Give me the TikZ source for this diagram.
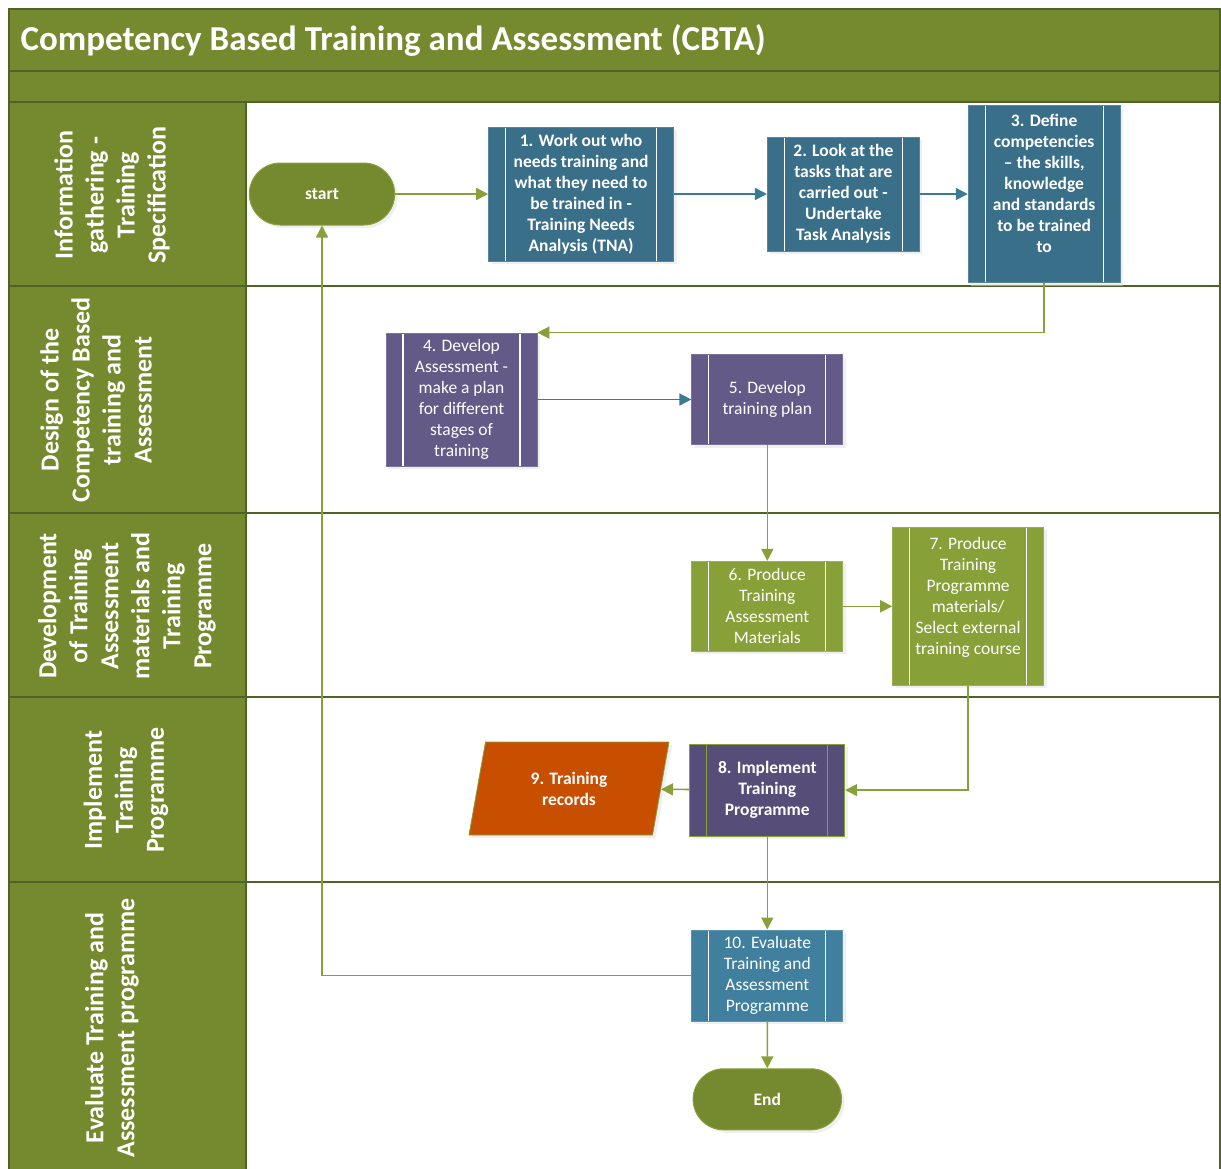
\documentclass[tikz,border=0pt]{standalone}
\usepackage{fontspec}
\setmainfont{Carlito}
\usetikzlibrary{positioning}
\usetikzlibrary{shapes.geometric}
\usetikzlibrary{shapes.misc}
\usetikzlibrary{arrows.meta}
\usetikzlibrary{shadows}

\definecolor{bandolive}{HTML}{75892E}
\definecolor{lineolive}{HTML}{4F6228}
\definecolor{flowolive}{HTML}{87A038}
\definecolor{taskteal}{HTML}{3A6F8A}
\definecolor{evalteal}{HTML}{407F9D}
\definecolor{taskpurple}{HTML}{635A87}
\definecolor{runpurple}{HTML}{564D78}
\definecolor{recordorange}{HTML}{C84E00}
\definecolor{flowteal}{HTML}{3A7A94}

\newcommand\boxfont{\fontsize{17.5}{21}\selectfont}
\newcommand\lanefont{\fontsize{26}{31}\selectfont\bfseries}

\begin{document}
\begin{tikzpicture}[x=1pt,y=-1pt,
  softshadow/.style={drop shadow={shadow xshift=3pt,shadow yshift=-3pt,fill=black!12,opacity=0.5}},
  bars/.style={path picture={
    \draw[#1,line width=1.2pt]
      ([xshift=17pt]path picture bounding box.north west) -- ([xshift=17pt]path picture bounding box.south west)
      ([xshift=-17pt]path picture bounding box.north east) -- ([xshift=-17pt]path picture bounding box.south east);}},
  task/.style={rectangle,fill=#1,draw=#1!85!white,line width=0.8pt,text=white,align=center,
    inner sep=0pt,font=\boxfont,bars=white,softshadow},
  terminal/.style={rounded rectangle,fill=bandolive,draw=flowolive,line width=1pt,text=white,
    font=\boxfont\bfseries,softshadow},
  lane/.style={rotate=90,align=center,text=white,font=\lanefont},
  flow/.style={draw=flowolive,line width=1.6pt,-{Triangle[length=12pt,width=12pt]}},
  tealflow/.style={flow,draw=flowteal},
]
\useasboundingbox (0,0) rectangle (1221,1168);

% pool and lanes
\fill[bandolive] (9,9) rectangle (1220,102);
\fill[bandolive] (9,102) rectangle (246,1172);
\draw[lineolive,line width=1.5pt] (9,1172) -- (9,9) -- (1220,9) -- (1220,1172);
\draw[lineolive,line width=1.5pt] (9,71) -- (1220,71) (9,102) -- (1220,102);
\draw[lineolive,line width=1.5pt] (246,102) -- (246,1172);
\foreach \y in {286,513,697,882}
  \draw[lineolive,line width=1.5pt] (9,\y) -- (1220,\y);

\node[anchor=west,text=white,font=\fontsize{35}{40}\selectfont\bfseries] (title) at (17,40)
  {Competency Based Training and Assessment (CBTA)};

\node[lane] (laneinfo) at (112,195) {Information\\gathering -\\Training\\Specification};
\node[lane] (lanedesign) at (96,400) {Design of the\\Competency Based\\training and\\Assessment};
\node[lane] (lanedev) at (127,606) {Development\\of Training\\Assessment\\materials and\\Training\\Programme};
\node[lane] (laneimpl) at (126,790) {Implement\\Training\\Programme};
\node[lane] (laneeval) at (112,1028) {Evaluate Training and\\Assessment programme};

% steps
\node[terminal,minimum width=152pt,minimum height=62pt] (start) at (322,194) {start};
\node[task=taskteal,font=\boxfont\bfseries,minimum width=185pt,minimum height=134pt,right=93pt of start] (tna)
  {1. Work out who\\needs training and\\what they need to\\be trained in -\\Training Needs\\Analysis (TNA)};
\node[task=taskteal,font=\boxfont\bfseries,minimum width=152pt,minimum height=114pt,right=93pt of tna] (tasks)
  {2. Look at the\\tasks that are\\carried out -\\Undertake\\Task Analysis};
\node[task=taskteal,font=\boxfont\bfseries,minimum width=152pt,minimum height=177pt,right=48pt of tasks] (competencies)
  {3. Define\\competencies\\– the skills,\\knowledge\\and standards\\to be trained\\to\\ \mbox{}};

\node[task=taskpurple,minimum width=151pt,minimum height=133pt] (assessment) at (461.5,399.5)
  {4. Develop\\Assessment -\\make a plan\\for different\\stages of\\training};
\node[task=taskpurple,minimum width=151pt,minimum height=90pt,right=154pt of assessment] (plan)
  {5. Develop\\training plan};

\node[task=flowolive,minimum width=151pt,minimum height=90pt,below=116pt of plan] (materials)
  {6. Produce\\Training\\Assessment\\Materials};
\node[task=flowolive,minimum width=151pt,minimum height=158pt,right=49pt of materials] (programme)
  {7. Produce\\Training\\Programme\\materials/\\Select external\\training course\\ \mbox{}};

\node[task=runpurple,draw=flowolive,bars=flowolive,font=\boxfont\bfseries,minimum width=155pt,minimum height=92pt,
  below=92pt of materials] (implement) {8. Implement\\Training\\Programme};
\node[trapezium,trapezium left angle=63.7,trapezium right angle=116.3,trapezium stretches body,
  minimum width=200pt,minimum height=93pt,fill=recordorange,draw=flowolive,line width=0.8pt,
  text=white,font=\boxfont\bfseries,align=center,inner sep=0pt,softshadow] (records) at (569,788.5)
  {9. Training\\records};

\node[task=evalteal,minimum width=151pt,minimum height=91pt,below=93pt of implement] (evaluate)
  {10. Evaluate\\Training and\\Assessment\\Programme};
\node[terminal,minimum width=155pt,minimum height=61pt,below=47pt of evaluate] (finish) {End};

% connectors
\draw[flow] (start) -- (tna);
\draw[tealflow] (tna) -- (tasks);
\draw[tealflow] (tasks) -- (competencies);
\draw[flow] (competencies.south) |- (assessment.north east);
\draw[tealflow] (assessment) -- (plan);
\draw[flow] (plan) -- (materials);
\draw[flow] (materials) -- (programme);
\draw[flow] (programme.south) |- (implement.east);
\draw[flow] (implement) -- (records);
\draw[flow] (implement) -- (evaluate);
\draw[flow] (evaluate.west) -| (start.south);
\draw[flow] (evaluate) -- (finish);
\end{tikzpicture}
\end{document}
